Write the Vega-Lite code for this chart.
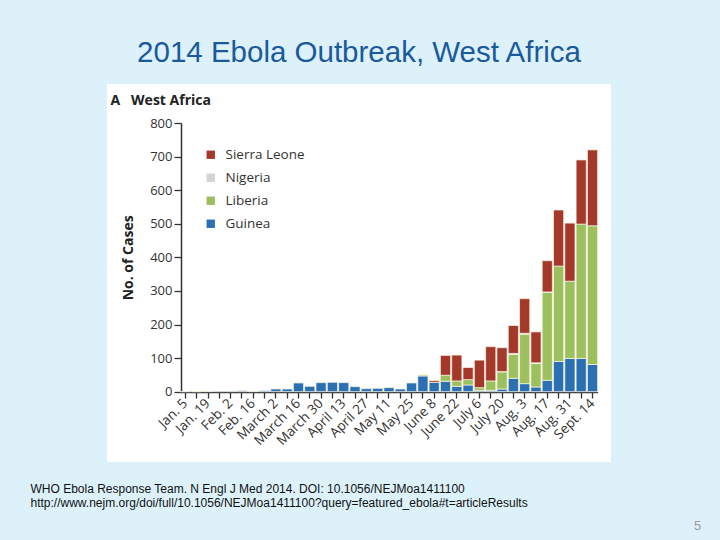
{
  "$schema": "https://vega.github.io/schema/vega-lite/v6.json",
  "width": 504,
  "height": 378,
  "autosize": "none",
  "padding": {"left": 107, "top": 84, "right": 109, "bottom": 78},
  "background": "#dcf1fa",
  "title": {
    "text": "2014 Ebola Outbreak, West Africa",
    "font": "Liberation Sans",
    "fontSize": 29.5,
    "fontWeight": "normal",
    "color": "#1a5a9c",
    "anchor": "middle",
    "frame": "group",
    "baseline": "bottom",
    "offset": -13
  },
  "config": {
    "view": {"fill": "white", "stroke": null},
    "axis": {"grid": false}
  },
  "data": {
    "values": [
      {"week": "Jan. 5", "country": "Guinea", "cases": 0},
      {"week": "Jan. 12", "country": "Guinea", "cases": 0},
      {"week": "Jan. 19", "country": "Guinea", "cases": 1},
      {"week": "Jan. 26", "country": "Guinea", "cases": 2},
      {"week": "Feb. 2", "country": "Guinea", "cases": 2},
      {"week": "Feb. 9", "country": "Guinea", "cases": 3},
      {"week": "Feb. 16", "country": "Guinea", "cases": 1},
      {"week": "Feb. 23", "country": "Guinea", "cases": 3},
      {"week": "March 2", "country": "Guinea", "cases": 8},
      {"week": "March 9", "country": "Guinea", "cases": 8},
      {"week": "March 16", "country": "Guinea", "cases": 26},
      {"week": "March 23", "country": "Guinea", "cases": 16},
      {"week": "March 30", "country": "Guinea", "cases": 27},
      {"week": "April 6", "country": "Guinea", "cases": 28},
      {"week": "April 13", "country": "Guinea", "cases": 27},
      {"week": "April 20", "country": "Guinea", "cases": 15},
      {"week": "April 27", "country": "Guinea", "cases": 9},
      {"week": "May 4", "country": "Guinea", "cases": 10},
      {"week": "May 11", "country": "Guinea", "cases": 12},
      {"week": "May 18", "country": "Guinea", "cases": 8},
      {"week": "May 25", "country": "Guinea", "cases": 26},
      {"week": "June 1", "country": "Guinea", "cases": 47},
      {"week": "June 8", "country": "Guinea", "cases": 28},
      {"week": "June 15", "country": "Guinea", "cases": 31},
      {"week": "June 22", "country": "Guinea", "cases": 16},
      {"week": "June 29", "country": "Guinea", "cases": 20},
      {"week": "July 6", "country": "Guinea", "cases": 4},
      {"week": "July 13", "country": "Guinea", "cases": 4},
      {"week": "July 20", "country": "Guinea", "cases": 8},
      {"week": "July 27", "country": "Guinea", "cases": 40},
      {"week": "Aug. 3", "country": "Guinea", "cases": 24},
      {"week": "Aug. 10", "country": "Guinea", "cases": 14},
      {"week": "Aug. 17", "country": "Guinea", "cases": 34},
      {"week": "Aug. 24", "country": "Guinea", "cases": 90},
      {"week": "Aug. 31", "country": "Guinea", "cases": 99},
      {"week": "Sept. 7", "country": "Guinea", "cases": 99},
      {"week": "Sept. 14", "country": "Guinea", "cases": 81},
      {"week": "June 1", "country": "Liberia", "cases": 3},
      {"week": "June 15", "country": "Liberia", "cases": 18},
      {"week": "June 22", "country": "Liberia", "cases": 16},
      {"week": "June 29", "country": "Liberia", "cases": 16},
      {"week": "July 6", "country": "Liberia", "cases": 8},
      {"week": "July 13", "country": "Liberia", "cases": 28},
      {"week": "July 20", "country": "Liberia", "cases": 51},
      {"week": "July 27", "country": "Liberia", "cases": 71},
      {"week": "Aug. 3", "country": "Liberia", "cases": 147},
      {"week": "Aug. 10", "country": "Liberia", "cases": 70},
      {"week": "Aug. 17", "country": "Liberia", "cases": 262},
      {"week": "Aug. 24", "country": "Liberia", "cases": 284},
      {"week": "Aug. 31", "country": "Liberia", "cases": 230},
      {"week": "Sept. 7", "country": "Liberia", "cases": 400},
      {"week": "Sept. 14", "country": "Liberia", "cases": 413},
      {"week": "July 20", "country": "Nigeria", "cases": 1},
      {"week": "July 27", "country": "Nigeria", "cases": 3},
      {"week": "Aug. 3", "country": "Nigeria", "cases": 3},
      {"week": "Aug. 10", "country": "Nigeria", "cases": 2},
      {"week": "Aug. 17", "country": "Nigeria", "cases": 1},
      {"week": "June 8", "country": "Sierra Leone", "cases": 5},
      {"week": "June 15", "country": "Sierra Leone", "cases": 59},
      {"week": "June 22", "country": "Sierra Leone", "cases": 77},
      {"week": "June 29", "country": "Sierra Leone", "cases": 36},
      {"week": "July 6", "country": "Sierra Leone", "cases": 82},
      {"week": "July 13", "country": "Sierra Leone", "cases": 102},
      {"week": "July 20", "country": "Sierra Leone", "cases": 71},
      {"week": "July 27", "country": "Sierra Leone", "cases": 83},
      {"week": "Aug. 3", "country": "Sierra Leone", "cases": 103},
      {"week": "Aug. 10", "country": "Sierra Leone", "cases": 92},
      {"week": "Aug. 17", "country": "Sierra Leone", "cases": 93},
      {"week": "Aug. 24", "country": "Sierra Leone", "cases": 167},
      {"week": "Aug. 31", "country": "Sierra Leone", "cases": 173},
      {"week": "Sept. 7", "country": "Sierra Leone", "cases": 191},
      {"week": "Sept. 14", "country": "Sierra Leone", "cases": 226}
    ]
  },
  "layer": [
    {
      "mark": {"type": "bar", "stroke": "#fbf7e4", "strokeWidth": 0.7},
      "encoding": {
        "x": {
          "field": "week",
          "type": "ordinal",
          "sort": null,
          "scale": {"range": [73.3, 490.6], "paddingInner": 0.1, "paddingOuter": 0},
          "axis": {
            "orient": "bottom",
            "offset": -70,
            "domainColor": "#333333",
            "domainWidth": 1.5,
            "tickColor": "#333333",
            "tickWidth": 1.3,
            "tickSize": 6,
            "labelAngle": -45,
            "labelAlign": "right",
            "labelBaseline": "middle",
            "labelPadding": 3,
            "labelFont": "Open Sans",
            "labelFontSize": 13.5,
            "labelColor": "#333333",
            "labelOverlap": false,
            "labelExpr": "indexof(['Jan. 5','Jan. 19','Feb. 2','Feb. 16','March 2','March 16','March 30','April 13','April 27','May 11','May 25','June 8','June 22','July 6','July 20','Aug. 3','Aug. 17','Aug. 31','Sept. 14'], datum.value) >= 0 ? datum.value : ''",
            "title": "A\u00a0\u00a0\u00a0West Africa",
            "titleFont": "Open Sans",
            "titleFontSize": 14,
            "titleFontWeight": "bold",
            "titleColor": "#222222",
            "titleAlign": "left",
            "titleBaseline": "alphabetic",
            "titleAngle": 0,
            "titleX": 3,
            "titleY": -288
          }
        },
        "y": {
          "aggregate": "sum",
          "field": "cases",
          "type": "quantitative",
          "stack": "zero",
          "scale": {"domain": [0, 800], "nice": false, "range": [307.7, 39]},
          "axis": {
            "orient": "left",
            "offset": -74,
            "values": [0, 100, 200, 300, 400, 500, 600, 700, 800],
            "domainColor": "#333333",
            "domainWidth": 1.5,
            "tickColor": "#333333",
            "tickWidth": 1.3,
            "tickSize": 7,
            "labelPadding": 2,
            "labelFont": "Open Sans",
            "labelFontSize": 13,
            "labelColor": "#333333",
            "title": "No. of Cases",
            "titleFont": "Open Sans",
            "titleFontSize": 14,
            "titleFontWeight": "bold",
            "titleColor": "#222222",
            "titlePadding": 14
          }
        },
        "color": {
          "field": "country",
          "type": "nominal",
          "scale": {
            "domain": ["Sierra Leone", "Nigeria", "Liberia", "Guinea"],
            "range": ["#a3382b", "#d4d4d4", "#9cc05e", "#2a70b3"]
          },
          "legend": {
            "orient": "none",
            "legendX": 97,
            "legendY": 64,
            "title": null,
            "symbolType": "square",
            "symbolSize": 70,
            "symbolStrokeWidth": 0,
            "symbolOpacity": 1,
            "labelFont": "Open Sans",
            "labelFontSize": 13.5,
            "labelColor": "#333333",
            "labelOffset": 8,
            "rowPadding": 8
          }
        },
        "order": {"field": "country", "sort": "ascending"}
      }
    },
    {
      "mark": {"type": "tick", "opacity": 0},
      "encoding": {
        "x": {
          "field": "week",
          "type": "ordinal",
          "sort": null,
          "axis": {
            "orient": "bottom",
            "offset": 0,
            "domain": false,
            "ticks": false,
            "labels": false,
            "title": ["WHO Ebola Response Team. N Engl J Med 2014. DOI: 10.1056/NEJMoa1411100", "http://www.nejm.org/doi/full/10.1056/NEJMoa1411100?query=featured_ebola#t=articleResults"],
            "titleFont": "Liberation Sans",
            "titleFontSize": 12,
            "titleFontWeight": "normal",
            "titleColor": "#111111",
            "titleAlign": "left",
            "titleBaseline": "alphabetic",
            "titleLineHeight": 14,
            "titleAngle": 0,
            "titleX": -77,
            "titleY": 30
          }
        },
        "y": {
          "field": "cases",
          "type": "quantitative",
          "axis": {
            "orient": "right",
            "domain": false,
            "ticks": false,
            "labels": false,
            "title": "5",
            "titleFont": "Liberation Sans",
            "titleFontSize": 13,
            "titleFontWeight": "normal",
            "titleColor": "#999999",
            "titleAngle": 0,
            "titleAlign": "center",
            "titleBaseline": "alphabetic",
            "titleX": 86,
            "titleY": 445
          }
        }
      }
    }
  ],
  "resolve": {"axis": {"x": "independent", "y": "independent"}}
}
